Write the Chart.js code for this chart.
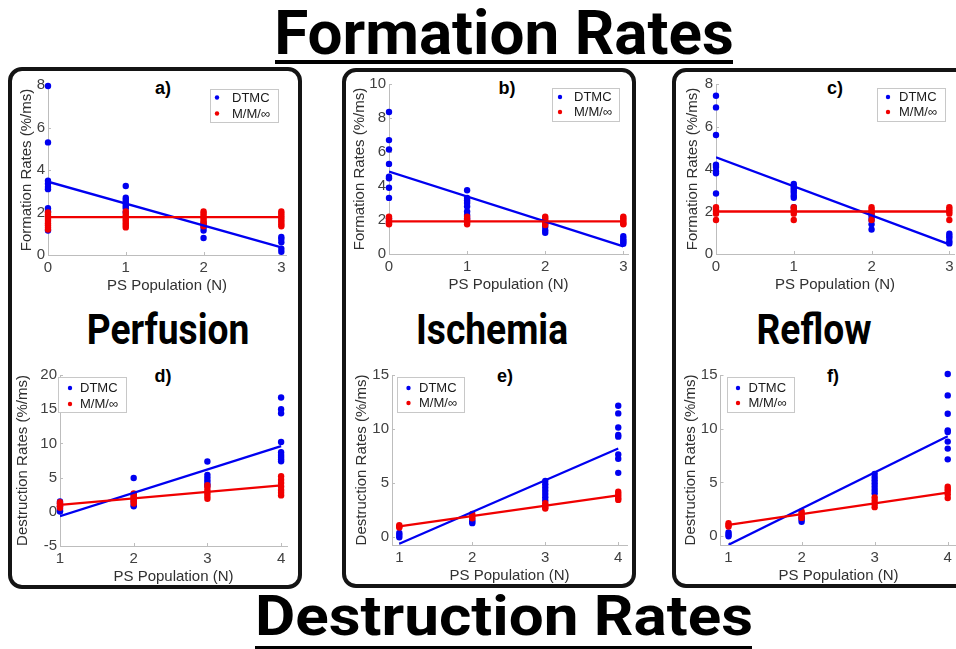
<!DOCTYPE html>
<html><head><meta charset="utf-8">
<script src="https://cdn.jsdelivr.net/npm/chart.js@4.4.0/dist/chart.umd.min.js"></script>
<style>
html,body{margin:0;padding:0;background:#fff;}
#stage{position:relative;width:956px;height:649px;overflow:hidden;background:#fff;}
.box{position:absolute;border:4px solid #141414;border-radius:14px;box-sizing:border-box;}
.big{position:absolute;font-family:Roboto;font-weight:700;color:#000;white-space:nowrap;text-align:center;line-height:1;}
.ul{position:absolute;background:#000;}
.lbl{position:absolute;font-family:'Liberation Sans',Arial,sans-serif;font-weight:700;font-size:18px;line-height:1;color:#000;transform:translate(-50%,-50%);white-space:nowrap;}
canvas{position:absolute;}
</style></head><body>
<div id="stage">
  <div class="box" style="left:8px;top:67px;width:294px;height:522px;"></div>
  <div class="box" style="left:342px;top:68px;width:294px;height:520px;"></div>
  <div class="box" style="left:672px;top:68px;width:330px;height:520px;"></div>

  <div class="big" style="left:204px;top:2px;width:600px;font-size:62px;">Formation Rates</div>
  <div class="ul" style="left:275px;top:60px;width:458px;height:4px;"></div>
  <div class="big" style="left:204px;top:587.6px;width:600px;font-size:62px;transform:scaleY(0.91);transform-origin:0 0;">Destruction Rates</div>
  <div class="ul" style="left:255px;top:646px;width:497px;height:4px;"></div>

  <div class="big" style="left:17.5px;top:308.5px;width:300px;font-size:42px;transform:scaleX(0.885);">Perfusion</div>
  <div class="big" style="left:341.5px;top:308.5px;width:300px;font-size:42px;transform:scaleX(0.885);">Ischemia</div>
  <div class="big" style="left:664px;top:308.5px;width:300px;font-size:42px;transform:scaleX(0.885);">Reflow</div>

  <div class="lbl" style="left:163px;top:88px;">a)</div>
  <div class="lbl" style="left:507px;top:88px;">b)</div>
  <div class="lbl" style="left:835px;top:88px;">c)</div>
  <div class="lbl" style="left:163px;top:376px;">d)</div>
  <div class="lbl" style="left:505px;top:376px;">e)</div>
  <div class="lbl" style="left:833px;top:376px;">f)</div>
</div>
<script>
// ---------------- DATA ----------------
const N_form = [0, 1, 2, 3];
const N_dest = [1, 2, 3, 4];
const formTicksY_8 = [0, 2, 4, 6, 8];
const formTicksY_10 = [0, 2, 4, 6, 8, 10];
const destTicksY_d = [-5, 0, 5, 10, 15, 20];
const destTicksY_ef = [0, 5, 10, 15];
const seriesNames = ['DTMC', 'M/M/\u221E'];

// a) Perfusion formation
const perfForm_DTMC = [[7.95, 5.3, 3.5, 3.35, 3.2, 3.1, 2.2, 2.05, 1.15],
                       [3.25, 2.7, 2.6, 2.5, 2.4, 2.3, 2.2, 2.0],
                       [1.5, 1.3, 1.15, 0.8],
                       [0.85, 0.75, 0.6, 0.3, 0.15]];
const perfForm_MM   = [[2.0, 1.9, 1.8, 1.7, 1.6, 1.5, 1.4, 1.3, 1.2],
                       [2.05, 1.9, 1.8, 1.7, 1.6, 1.5, 1.4, 1.3],
                       [2.05, 1.95, 1.85, 1.75, 1.65, 1.55, 1.45, 1.35],
                       [2.05, 1.95, 1.85, 1.75, 1.65, 1.55, 1.45, 1.35]];
const perfForm_DTMC_fit = [3.45, 0.36];
const perfForm_MM_fit = [1.78, 1.78];

// b) Ischemia formation
const ischForm_DTMC = [[8.35, 6.7, 6.15, 5.3, 4.55, 4.45, 3.9, 3.3, 2.1, 1.9],
                       [3.75, 3.3, 3.15, 3.0, 2.8, 2.5, 2.3, 2.1],
                       [1.8, 1.6, 1.4, 1.25],
                       [1.05, 0.9, 0.8, 0.7, 0.6]];
const ischForm_MM   = [[2.2, 2.1, 2.0, 1.9, 1.8, 1.75],
                       [2.2, 2.05, 1.95, 1.85, 1.75],
                       [2.2, 2.1, 2.0, 1.9, 1.8, 1.7],
                       [2.2, 2.1, 2.0, 1.9, 1.8, 1.75]];
const ischForm_DTMC_fit = [4.85, 0.45];
const ischForm_MM_fit = [1.92, 1.92];

// c) Reflow formation
const reflForm_DTMC = [[7.45, 6.9, 5.6, 4.2, 4.1, 3.9, 3.8, 2.85],
                       [3.3, 3.2, 3.1, 3.0, 2.9, 2.75, 2.65, 2.2],
                       [1.9, 1.75, 1.6, 1.4, 1.15],
                       [0.95, 0.85, 0.75, 0.6, 0.5]];
const reflForm_MM   = [[2.2, 2.1, 2.0, 1.9, 1.6],
                       [2.2, 2.1, 2.0, 1.9, 1.6],
                       [2.2, 2.1, 2.0, 1.9, 1.6],
                       [2.2, 2.1, 2.0, 1.9, 1.6]];
const reflForm_DTMC_fit = [4.55, 0.45];
const reflForm_MM_fit = [2.0, 2.0];

// d) Perfusion destruction
const perfDest_DTMC = [[1.5, 1.2, 0.8, 0.4, 0.15, 0.05],
                       [4.95, 2.5, 2.0, 1.5, 1.0, 0.8],
                       [7.35, 5.4, 5.0, 4.6, 4.2, 3.8],
                       [16.7, 15.0, 14.4, 10.2, 8.7, 8.3, 8.0, 7.7, 7.4]];
const perfDest_MM   = [[1.4, 1.2, 1.0, 0.8, 0.6],
                       [2.7, 2.4, 2.1, 1.8, 1.5, 1.2],
                       [3.9, 3.5, 3.1, 2.7, 2.3, 1.9],
                       [5.2, 4.7, 4.2, 3.7, 3.2, 2.8, 2.4]];
const perfDest_DTMC_fit = [-0.65, 9.6];
const perfDest_MM_fit = [1.0, 3.85];

// e) Ischemia destruction
const ischDest_DTMC = [[0.4, 0.2, 0.0],
                       [1.6, 1.45, 1.3],
                       [5.2, 4.9, 4.6, 4.3, 4.0, 3.7, 3.4],
                       [12.15, 11.45, 10.15, 9.45, 9.3, 7.65, 7.25, 5.95]];
const ischDest_MM   = [[1.1, 1.0, 0.9],
                       [2.15, 1.95, 1.75],
                       [3.15, 2.95, 2.75, 2.65],
                       [4.2, 4.0, 3.8, 3.6, 3.45]];
const ischDest_DTMC_fit = [-0.6, 8.2];
const ischDest_MM_fit = [1.0, 3.87];

// f) Reflow destruction
const reflDest_DTMC = [[0.35, 0.15, 0.0],
                       [1.75, 1.55, 1.35],
                       [5.8, 5.5, 5.2, 4.9, 4.6, 4.3, 4.0],
                       [15.1, 13.1, 11.4, 9.85, 9.7, 8.8, 8.15, 7.15]];
const reflDest_MM   = [[1.2, 1.05, 0.9],
                       [2.3, 2.1, 1.9, 1.7],
                       [3.6, 3.3, 3.0, 2.7],
                       [4.6, 4.4, 4.2, 3.9, 3.55]];
const reflDest_DTMC_fit = [-0.8, 9.3];
const reflDest_MM_fit = [1.05, 4.05];

// ---------------- STYLE / LAYOUT ----------------
const BLUE = '#0000f0';
const RED = '#f00000';
const AXIS = '#bdbdbd';
const TICKCOL = '#404040';
const FONT = "'Liberation Sans', Arial, sans-serif";

const panels = [
  {N:N_form, d:perfForm_DTMC, m:perfForm_MM, df:perfForm_DTMC_fit, mf:perfForm_MM_fit,
   L:48, R:286, T:84.5, B:254.3, xmin:0, xmax:3.06, ymin:0, ymax:8, yt:formTicksY_8,
   ytitle:'Formation Rates (%/ms)', ytx:27, leg:{x:210,y:88,w:68,h:33,r1:9,r2:25,dot:7,txt:22}},
  {N:N_form, d:ischForm_DTMC, m:ischForm_MM, df:ischForm_DTMC_fit, mf:ischForm_MM_fit,
   L:389, R:628, T:84, B:254.3, xmin:0, xmax:3.06, ymin:0, ymax:10, yt:formTicksY_10,
   ytitle:'Formation Rates (%/ms)', ytx:360, leg:{x:552,y:88,w:67,h:33,r1:9,r2:24,dot:8,txt:22}},
  {N:N_form, d:reflForm_DTMC, m:reflForm_MM, df:reflForm_DTMC_fit, mf:reflForm_MM_fit,
   L:716, R:954, T:84, B:254.3, xmin:0, xmax:3.06, ymin:0, ymax:8, yt:formTicksY_8,
   ytitle:'Formation Rates (%/ms)', ytx:693, leg:{x:877,y:88,w:68,h:33,r1:9,r2:24,dot:11,txt:22}},
  {N:N_dest, d:perfDest_DTMC, m:perfDest_MM, df:perfDest_DTMC_fit, mf:perfDest_MM_fit,
   L:60, R:287, T:375, B:545.5, xmin:1, xmax:4.08, ymin:-5, ymax:20, yt:destTicksY_d,
   ytitle:'Destruction Rates (%/ms)', ytx:23, leg:{x:58,y:377,w:68,h:35,r1:11,r2:27,dot:12,txt:22}},
  {N:N_dest, d:ischDest_DTMC, m:ischDest_MM, df:ischDest_DTMC_fit, mf:ischDest_MM_fit,
   L:392, R:627, T:375, B:544.5, xmin:0.9, xmax:4.12, ymin:-0.72, ymax:15, yt:destTicksY_ef,
   ytitle:'Destruction Rates (%/ms)', ytx:362, leg:{x:397,y:377,w:67,h:35,r1:11,r2:26,dot:11.5,txt:22}},
  {N:N_dest, d:reflDest_DTMC, m:reflDest_MM, df:reflDest_DTMC_fit, mf:reflDest_MM_fit,
   L:720, R:956, T:375, B:544.5, xmin:0.89, xmax:4.12, ymin:-0.82, ymax:15, yt:destTicksY_ef,
   ytitle:'Destruction Rates (%/ms)', ytx:690.5, leg:{x:726,y:377,w:67,h:35,r1:11,r2:26,dot:11.5,txt:22}}
];

const inTicks = {
  id: 'inTicks',
  beforeDatasetsDraw(chart) {
    const {ctx, chartArea: a, scales: {x, y}} = chart;
    ctx.save();
    ctx.strokeStyle = AXIS; ctx.lineWidth = 1;
    ctx.beginPath();
    x.ticks.forEach(t => { const p = Math.round(x.getPixelForValue(t.value)) + 0.5; ctx.moveTo(p, a.bottom); ctx.lineTo(p, a.bottom - 3); });
    y.ticks.forEach(t => { const p = Math.round(y.getPixelForValue(t.value)) + 0.5; ctx.moveTo(a.left, p); ctx.lineTo(a.left + 3, p); });
    ctx.stroke();
    ctx.restore();
  }
};

const boxLegend = {
  id: 'boxLegend',
  afterDraw(chart, args, o) {
    if (!o || !o.leg) return;
    const ctx = chart.ctx, g = o.leg;
    const x = g.x - o.ox, y = g.y - o.oy;
    ctx.save();
    ctx.fillStyle = '#fff';
    ctx.fillRect(x, y, g.w, g.h);
    ctx.strokeStyle = '#c8c8c8'; ctx.lineWidth = 1;
    ctx.strokeRect(Math.round(x) + 0.5, Math.round(y) + 0.5, Math.round(g.w), Math.round(g.h));
    const rows = [[seriesNames[0], BLUE, g.r1], [seriesNames[1], RED, g.r2]];
    ctx.font = '13px ' + FONT;
    ctx.textBaseline = 'middle';
    rows.forEach(([t, c, dy]) => {
      ctx.fillStyle = c;
      ctx.beginPath(); ctx.arc(x + g.dot, y + dy, 2.2, 0, Math.PI * 2); ctx.fill();
      ctx.fillStyle = '#1a1a1a';
      ctx.fillText(t, x + g.txt, y + dy + 0.5);
    });
    ctx.restore();
  }
};

const stage = document.getElementById('stage');
panels.forEach(p => {
  const left = p.ytx - 9;
  const top = p.T - 12;
  const width = Math.ceil(p.R + 8 - left);
  const height = Math.round(p.B - p.T + 12 + 40);
  const cv = document.createElement('canvas');
  cv.width = width; cv.height = height;
  cv.style.left = left + 'px'; cv.style.top = top + 'px';
  cv.style.width = width + 'px'; cv.style.height = height + 'px';
  stage.appendChild(cv);

  const ptsD = [], ptsM = [];
  p.N.forEach((n, i) => {
    p.d[i].forEach(v => ptsD.push({x: n, y: v}));
    p.m[i].forEach(v => ptsM.push({x: n, y: v}));
  });
  const x0 = p.N[0], x1 = p.N[p.N.length - 1];
  const fitD = [{x: x0, y: p.df[0]}, {x: x1, y: p.df[1]}];
  const fitM = [{x: x0, y: p.mf[0]}, {x: x1, y: p.mf[1]}];
  const xt = p.N.slice();
  const yt = p.yt.slice();
  const plotW = p.L - left;
  const padR = width - (p.R - left);

  new Chart(cv, {
    type: 'scatter',
    data: {
      datasets: [
        {label: 'DTMC', data: ptsD, backgroundColor: BLUE, borderWidth: 0, pointRadius: 3.2, pointHoverRadius: 3.2, order: 4, clip: false},
        {label: 'M/M/\u221E', data: ptsM, backgroundColor: RED, borderWidth: 0, pointRadius: 3.2, pointHoverRadius: 3.2, order: 3, clip: false},
        {label: 'DTMC fit', data: fitD, showLine: true, borderColor: BLUE, borderWidth: 2.3, pointRadius: 0, order: 2},
        {label: 'MM fit', data: fitM, showLine: true, borderColor: RED, borderWidth: 2.3, pointRadius: 0, order: 1}
      ]
    },
    options: {
      responsive: false, animation: false, devicePixelRatio: 1,
      layout: {padding: {left: 0, top: 12, right: padR, bottom: 0}},
      events: [],
      plugins: {legend: {display: false}, tooltip: {enabled: false},
        boxLegend: {leg: p.leg, ox: left, oy: top}},
      scales: {
        x: {type: 'linear', min: p.xmin, max: p.xmax,
          afterBuildTicks: s => { s.ticks = xt.map(v => ({value: v})); },
          afterFit: s => { s.height = 40; },
          grid: {display: false, drawTicks: false},
          border: {display: true, color: AXIS, width: 1},
          ticks: {padding: 4, color: TICKCOL, font: {family: FONT, size: 15}, maxRotation: 0},
          title: {display: true, text: 'PS Population (N)', color: '#303030', padding: 0, font: {family: FONT, size: 15}}
        },
        y: {type: 'linear', min: p.ymin, max: p.ymax,
          afterBuildTicks: s => { s.ticks = yt.map(v => ({value: v})); },
          afterFit: s => { s.width = plotW; },
          grid: {display: false, drawTicks: false},
          border: {display: true, color: AXIS, width: 1},
          ticks: {padding: 3, color: TICKCOL, font: {family: FONT, size: 15}},
          title: {display: true, text: p.ytitle, color: '#303030', padding: 0, font: {family: FONT, size: 15}}
        }
      }
    },
    plugins: [inTicks, boxLegend]
  });
});
</script>
</body></html>
